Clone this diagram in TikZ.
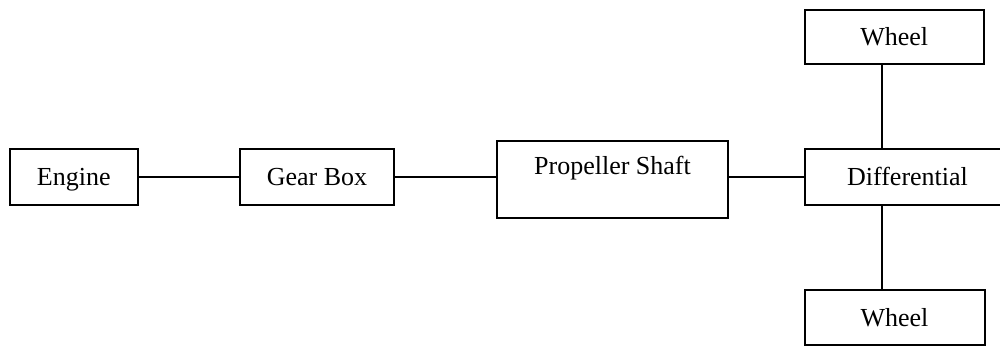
\documentclass[tikz,border=0pt]{standalone}
\usepackage{fontspec}
\setmainfont{Liberation Serif}
\begin{document}
\begin{tikzpicture}[x=1pt,y=-1pt,
  txt/.style={font=\fontsize{26}{30}\selectfont, text height=17pt, text depth=0pt},
  box/.style={draw, line width=2pt, inner sep=0pt, txt},
  link/.style={line width=2pt}]
\useasboundingbox (0,0) rectangle (1000,346);
\clip (0,0) rectangle (1000,346);
\node[box, minimum width=128.5pt, minimum height=56pt] (engine) at (73.75,177) {Engine};
\node[box, minimum width=154pt, minimum height=56pt] (gear) at (317,177) {Gear Box};
\node[box, minimum width=231pt, minimum height=77pt,
  label={[yshift=13.5pt, txt, inner sep=0pt]center:Propeller Shaft}] (prop) at (612.5,179.5) {};
\node[box, minimum width=205pt, minimum height=56pt] (diff) at (907.5,177) {Differential};
\node[box, minimum width=179.5pt, minimum height=54pt] (wtop) at (894.25,36.5) {Wheel};
\node[box, minimum width=180pt, minimum height=55pt] (wbot) at (894.5,317.5) {Wheel};
\coordinate (vx) at (882,177);
\draw[link] (engine.east) -- (gear.west);
\draw[link] (gear.east) -- (gear.east -| prop.west);
\draw[link] (diff.west -| prop.east) -- (diff.west);
\draw[link] (wtop.south -| vx) -- (diff.north -| vx);
\draw[link] (diff.south -| vx) -- (wbot.north -| vx);
\end{tikzpicture}
\end{document}
